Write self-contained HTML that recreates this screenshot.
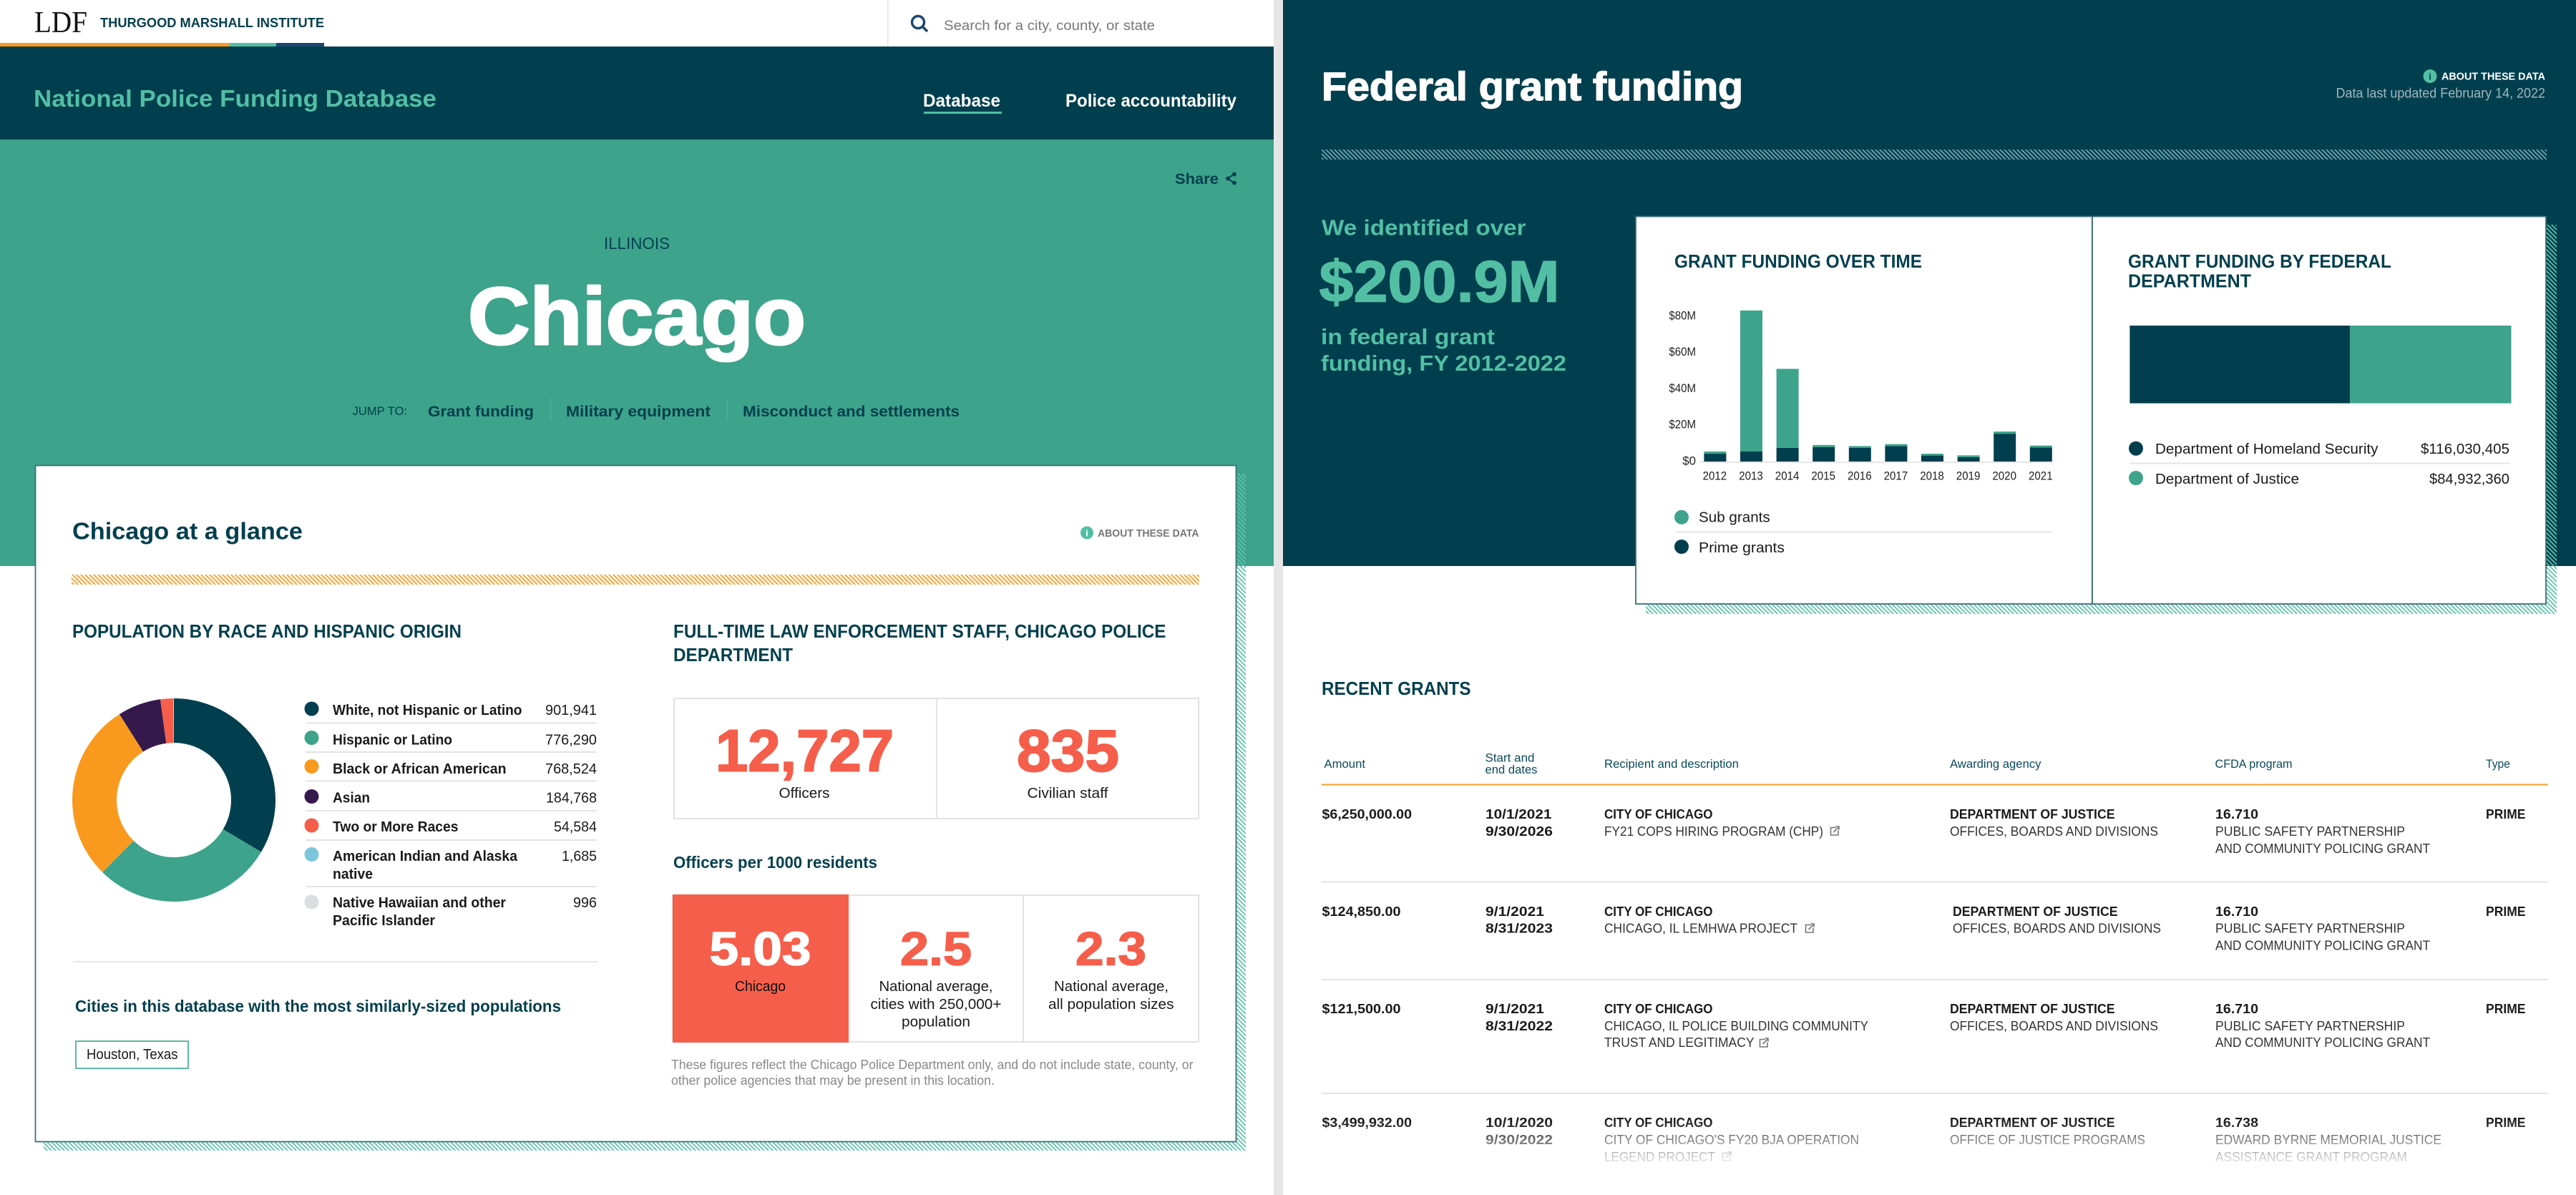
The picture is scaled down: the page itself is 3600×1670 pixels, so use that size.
<!DOCTYPE html>
<html lang="en">
<head>
<meta charset="utf-8">
<title>National Police Funding Database – Chicago</title>
<style>
html,body{margin:0;padding:0;background:#fff;width:3600px;height:1670px;overflow:hidden}
svg{display:block}
text{font-family:"Liberation Sans",Arial,sans-serif;white-space:pre}
.b{font-weight:700}
.dk{fill:#023f4e}
.tl{fill:#52bfa4}
.wh{fill:#fff}
.ink{fill:#1a1a1a}
.red{fill:#f55e4b}
.sub{fill:#333}
.hd{fill:#0b4a58}
.hv{stroke-linejoin:round}
</style>
</head>
<body>
<svg xmlns="http://www.w3.org/2000/svg" width="3600" height="1670" viewBox="0 0 3600 1670">
<defs>
<pattern id="hatch-teal" width="6" height="6" patternUnits="userSpaceOnUse"><path d="M-1,-1L7,7M-1,5L1,7M5,-1L7,1" stroke="#5cc2a9" stroke-width="1.7" fill="none"/></pattern>
<pattern id="hatch-orange" width="6" height="6" patternUnits="userSpaceOnUse"><path d="M-1,-1L7,7M-1,5L1,7M5,-1L7,1" stroke="#f9a233" stroke-width="1.9" fill="none"/></pattern>
<pattern id="hatch-pale" width="6" height="6" patternUnits="userSpaceOnUse"><path d="M-1,-1L7,7M-1,5L1,7M5,-1L7,1" stroke="#6fa3ad" stroke-width="1.8" fill="none"/></pattern>
<linearGradient id="row-fade" x1="0" y1="0" x2="0" y2="1"><stop offset="0" stop-color="#fff" stop-opacity="0"/><stop offset="1" stop-color="#fff" stop-opacity="1"/></linearGradient>
<g id="ext-link"><path d="M9,2.5H1.5V13H12V6.5" fill="none" stroke="#777" stroke-width="1.6"/><path d="M5.5,9L12.5,2M8.5,1H13V5.5" fill="none" stroke="#777" stroke-width="1.6"/></g>
</defs>

<!-- backgrounds -->
<rect x="0" y="0" width="3600" height="1670" fill="#fff"/>
<rect x="1780" y="0" width="13" height="1670" fill="#e6e6e6"/>

<!-- LEFT PANEL -->
<g>
  <text x="48" y="45" font-size="42" textLength="74" style="font-family:'Liberation Serif',serif;fill:#111">LDF</text>
  <text x="140" y="38" font-size="18" textLength="313" class="b dk">THURGOOD MARSHALL INSTITUTE</text>
  <rect x="0" y="60" width="320" height="5" fill="#f99a1f"/>
  <rect x="320" y="60" width="66" height="5" fill="#52bfa4"/>
  <rect x="386" y="60" width="67" height="5" fill="#1c4672"/>
  <rect x="1240" y="0" width="1.5" height="65" fill="#e2e2e2"/>
  <g><circle cx="1283" cy="31" r="8.5" fill="none" stroke="#1c4672" stroke-width="3.4"/><path d="M1289,37L1296,44" stroke="#1c4672" stroke-width="3.6"/></g>
  <text x="1319" y="42" font-size="19" textLength="295" fill="#777">Search for a city, county, or state</text>
</g>

<rect x="0" y="65" width="1780" height="130" fill="#023f4e"/>
<text x="47" y="149" font-size="33" textLength="563" class="b tl">National Police Funding Database</text>
<text x="1290" y="149" font-size="25" textLength="108" class="b wh">Database</text>
<rect x="1291" y="156" width="109" height="3" fill="#52bfa4"/>
<text x="1489" y="149" font-size="25" textLength="239" class="b wh">Police accountability</text>

<rect x="0" y="195" width="1780" height="596" fill="#3da38b"/>
<text x="1642" y="257" font-size="21" textLength="61" class="b dk">Share</text>
<g fill="#023f4e" stroke="#023f4e"><path d="M1725,243L1716,249.5L1725,256" fill="none" stroke-width="2"/><circle cx="1725" cy="243.5" r="2.4"/><circle cx="1716" cy="249.5" r="2.4"/><circle cx="1725" cy="255.5" r="2.4"/></g>
<text x="844" y="348" font-size="23" textLength="92" class="dk">ILLINOIS</text>
<text x="654" y="481" font-size="113" textLength="472" class="b wh hv" stroke="#fff" stroke-width="3">Chicago</text>
<text x="492.5" y="580" font-size="17" textLength="76.5" class="dk">JUMP TO:</text>
<text x="598" y="582" font-size="21" textLength="148" class="b dk">Grant funding</text>
<rect x="769" y="556" width="1.5" height="33" fill="#52ad98"/>
<text x="791" y="582" font-size="21" textLength="202" class="b dk">Military equipment</text>
<rect x="1016" y="556" width="1.5" height="33" fill="#52ad98"/>
<text x="1038" y="582" font-size="21" textLength="303" class="b dk">Misconduct and settlements</text>

<!-- glance card -->
<rect x="61" y="662" width="1680" height="946" fill="url(#hatch-teal)"/>
<rect x="49.5" y="650.5" width="1678" height="945" fill="#fff" stroke="#3a6f7c" stroke-width="1.8"/>
<text x="101" y="753.5" font-size="33" textLength="322" class="b dk">Chicago at a glance</text>
<g>
  <circle cx="1519" cy="744.5" r="9" fill="#52bfa4"/>
  <text x="1519" y="749.5" font-size="13" text-anchor="middle" class="b wh">i</text>
  <text x="1534" y="750" font-size="15" textLength="141.5" class="b" fill="#777">ABOUT THESE DATA</text>
</g>
<rect x="100" y="803" width="1576" height="14" fill="url(#hatch-orange)"/>

<text x="101" y="891" font-size="26" textLength="544" class="b dk">POPULATION BY RACE AND HISPANIC ORIGIN</text>
<g id="donut"></g>

<g>
  <circle cx="435.5" cy="990.5" r="10" fill="#023f4e"/>
  <text x="465" y="999" font-size="20" textLength="264.5" class="b ink">White, not Hispanic or Latino</text>
  <text x="762" y="999" font-size="20" textLength="72" class="ink">901,941</text>
  <rect x="427" y="1009.5" width="407" height="2" fill="#e4e4e4"/>

  <circle cx="435.5" cy="1031" r="10" fill="#3da38b"/>
  <text x="465" y="1040.5" font-size="20" textLength="167" class="b ink">Hispanic or Latino</text>
  <text x="762" y="1040.5" font-size="20" textLength="72" class="ink">776,290</text>
  <rect x="427" y="1050" width="407" height="2" fill="#e4e4e4"/>

  <circle cx="435.5" cy="1071" r="10" fill="#f99a1f"/>
  <text x="465" y="1081" font-size="20" textLength="242.5" class="b ink">Black or African American</text>
  <text x="762" y="1081" font-size="20" textLength="72" class="ink">768,524</text>
  <rect x="427" y="1090.5" width="407" height="2" fill="#e4e4e4"/>

  <circle cx="435.5" cy="1113" r="10" fill="#35194d"/>
  <text x="465" y="1121.5" font-size="20" textLength="52" class="b ink">Asian</text>
  <text x="763" y="1121.5" font-size="20" textLength="71" class="ink">184,768</text>
  <rect x="427" y="1132" width="407" height="2" fill="#e4e4e4"/>

  <circle cx="435.5" cy="1153.5" r="10" fill="#f55e4b"/>
  <text x="465" y="1162" font-size="20" textLength="175.5" class="b ink">Two or More Races</text>
  <text x="774" y="1162" font-size="20" textLength="60" class="ink">54,584</text>
  <rect x="427" y="1173" width="407" height="2" fill="#e4e4e4"/>

  <circle cx="435.5" cy="1194" r="10" fill="#7cc5da"/>
  <text x="465" y="1203" font-size="20" textLength="258" class="b ink">American Indian and Alaska</text>
  <text x="465" y="1228" font-size="20" textLength="56" class="b ink">native</text>
  <text x="785" y="1203" font-size="20" textLength="49" class="ink">1,685</text>
  <rect x="427" y="1238" width="407" height="2" fill="#e4e4e4"/>

  <circle cx="435.5" cy="1260.5" r="10" fill="#dcdde0"/>
  <text x="465" y="1268" font-size="20" textLength="242" class="b ink">Native Hawaiian and other</text>
  <text x="465" y="1293" font-size="20" textLength="143" class="b ink">Pacific Islander</text>
  <text x="801" y="1268" font-size="20" textLength="33" class="ink">996</text>
</g>

<rect x="102" y="1343" width="733" height="2" fill="#e6e6e6"/>
<text x="105" y="1414" font-size="23" textLength="679" class="b dk">Cities in this database with the most similarly-sized populations</text>
<rect x="106" y="1455" width="157" height="38" fill="#fff" stroke="#5fb8a2" stroke-width="2"/>
<text x="121" y="1480" font-size="20" textLength="127.5" class="ink">Houston, Texas</text>

<text x="941" y="891" font-size="26" textLength="688.5" class="b dk">FULL-TIME LAW ENFORCEMENT STAFF, CHICAGO POLICE</text>
<text x="941" y="924" font-size="26" textLength="167" class="b dk">DEPARTMENT</text>

<rect x="942" y="976" width="733" height="168" fill="#fff" stroke="#e2e2e2" stroke-width="2"/>
<rect x="1308" y="976" width="2" height="168" fill="#e2e2e2"/>
<text x="1000" y="1077.5" font-size="83" textLength="249" class="b red hv" stroke="#f55e4b" stroke-width="2">12,727</text>
<text x="1088.5" y="1115" font-size="20" textLength="71" class="ink">Officers</text>
<text x="1421" y="1077.5" font-size="83" textLength="143" class="b red hv" stroke="#f55e4b" stroke-width="2">835</text>
<text x="1435.5" y="1115" font-size="20" textLength="113" class="ink">Civilian staff</text>

<text x="941" y="1213" font-size="23" textLength="285" class="b dk">Officers per 1000 residents</text>
<rect x="940" y="1251" width="735" height="205" fill="#fff" stroke="#e2e2e2" stroke-width="2"/>
<rect x="1429" y="1251" width="2" height="205" fill="#e2e2e2"/>
<rect x="940" y="1250" width="246" height="207" fill="#f55e4b"/>
<text x="991.5" y="1348.5" font-size="66" textLength="142" class="b wh hv" stroke="#fff" stroke-width="1.5">5.03</text>
<text x="1027" y="1385" font-size="20" textLength="71" fill="#111">Chicago</text>
<text x="1258" y="1348.5" font-size="66" textLength="100" class="b red hv" stroke="#f55e4b" stroke-width="1.5">2.5</text>
<text x="1228.5" y="1385" font-size="20" textLength="159" class="ink">National average,</text>
<text x="1216.5" y="1410" font-size="20" textLength="183" class="ink">cities with 250,000+</text>
<text x="1260" y="1434.5" font-size="20" textLength="96" class="ink">population</text>
<text x="1503" y="1348.5" font-size="66" textLength="99" class="b red hv" stroke="#f55e4b" stroke-width="1.5">2.3</text>
<text x="1473" y="1385" font-size="20" textLength="160" class="ink">National average,</text>
<text x="1465" y="1410" font-size="20" textLength="175.5" class="ink">all population sizes</text>
<text x="938" y="1494" font-size="18" textLength="729.5" fill="#888">These figures reflect the Chicago Police Department only, and do not include state, county, or</text>
<text x="938" y="1516" font-size="18" textLength="452" fill="#888">other police agencies that may be present in this location.</text>

<!-- RIGHT PANEL -->
<rect x="1793" y="0" width="1807" height="791" fill="#023f4e"/>
<text x="1847" y="140" font-size="56" textLength="589" class="b wh" stroke="#fff" stroke-width="1.5">Federal grant funding</text>
<g>
  <circle cx="3396" cy="106.5" r="9.5" fill="#52bfa4"/>
  <text x="3396" y="111.5" font-size="13" text-anchor="middle" class="b dk">i</text>
  <text x="3412" y="111.7" font-size="14.5" textLength="145" class="b wh">ABOUT THESE DATA</text>
</g>
<text x="3264.5" y="136.7" font-size="19" textLength="292.5" fill="#9fb6bc">Data last updated February 14, 2022</text>
<rect x="1847" y="209" width="1712" height="14" fill="url(#hatch-pale)"/>

<text x="1847" y="328.5" font-size="31" textLength="285.5" class="b tl">We identified over</text>
<text x="1843.5" y="421.5" font-size="82" textLength="336" class="b tl" stroke="#52bfa4" stroke-width="1.5">$200.9M</text>
<text x="1846" y="481" font-size="31" textLength="243" class="b tl">in federal grant</text>
<text x="1846" y="518" font-size="31" textLength="343" class="b tl">funding, FY 2012-2022</text>

<rect x="2300" y="314" width="1273" height="544" fill="url(#hatch-teal)"/>
<rect x="2286" y="302.5" width="1272" height="541.5" fill="#fff" stroke="#3a6f7c" stroke-width="1.8"/>
<rect x="2923" y="302" width="1.8" height="542" fill="#2a5f6c"/>

<text x="2340" y="373.8" font-size="26" textLength="346" class="b dk">GRANT FUNDING OVER TIME</text>
<g id="bar-chart"></g>
<g>
  <circle cx="2350" cy="722.8" r="10" fill="#3da38b"/>
  <text x="2374" y="729.7" font-size="20" textLength="99.7" class="ink">Sub grants</text>
  <rect x="2342" y="742.5" width="526" height="2" fill="#e4e4e4"/>
  <circle cx="2350" cy="764" r="10" fill="#023f4e"/>
  <text x="2374" y="771.8" font-size="20" textLength="120" class="ink">Prime grants</text>
</g>

<text x="2974" y="373.8" font-size="26" textLength="368" class="b dk">GRANT FUNDING BY FEDERAL</text>
<text x="2974" y="401.7" font-size="26" textLength="172" class="b dk">DEPARTMENT</text>
<g id="stack-chart"></g>
<g>
  <circle cx="2985" cy="626.7" r="10" fill="#023f4e"/>
  <text x="3012" y="634" font-size="20" textLength="311.5" class="ink">Department of Homeland Security</text>
  <text x="3383" y="634" font-size="20" textLength="124" class="ink">$116,030,405</text>
  <rect x="2976" y="646.5" width="532" height="2" fill="#e4e4e4"/>
  <circle cx="2985" cy="668" r="10" fill="#3da38b"/>
  <text x="3012" y="676" font-size="20" textLength="201" class="ink">Department of Justice</text>
  <text x="3395" y="676" font-size="20" textLength="112" class="ink">$84,932,360</text>
</g>

<!-- Recent grants table -->
<text x="1847" y="971" font-size="26" textLength="208.5" class="b dk">RECENT GRANTS</text>
<g font-size="16.5">
  <text x="1850.5" y="1073" textLength="57.5" class="hd">Amount</text>
  <text x="2075.5" y="1064.5" textLength="69" class="hd">Start and</text>
  <text x="2075.5" y="1081" textLength="73" class="hd">end dates</text>
  <text x="2242" y="1073" textLength="188" class="hd">Recipient and description</text>
  <text x="2725" y="1073" textLength="127.5" class="hd">Awarding agency</text>
  <text x="3095.5" y="1073" textLength="108" class="hd">CFDA program</text>
  <text x="3474" y="1073" textLength="34" class="hd">Type</text>
</g>
<rect x="1847" y="1095.5" width="1714" height="2" fill="#f7a030"/>

<g font-size="18.7">
  <text x="1847.5" y="1144" textLength="125.5" class="b ink">$6,250,000.00</text>
  <text x="2076" y="1144" textLength="92.5" class="b ink">10/1/2021</text>
  <text x="2076" y="1168" textLength="94" class="b ink">9/30/2026</text>
  <text x="2242" y="1144" textLength="151.5" class="b ink">CITY OF CHICAGO</text>
  <text x="2242" y="1168" textLength="306" class="sub">FY21 COPS HIRING PROGRAM (CHP)</text>
  <use href="#ext-link" x="2557" y="1154"/>
  <text x="2725" y="1144" textLength="230.5" class="b ink">DEPARTMENT OF JUSTICE</text>
  <text x="2725" y="1168" textLength="291" class="sub">OFFICES, BOARDS AND DIVISIONS</text>
  <text x="3096" y="1144" textLength="60" class="b ink">16.710</text>
  <text x="3096" y="1168" textLength="265" class="sub">PUBLIC SAFETY PARTNERSHIP</text>
  <text x="3096" y="1192" textLength="300" class="sub">AND COMMUNITY POLICING GRANT</text>
  <text x="3474" y="1144" textLength="55.5" class="b ink">PRIME</text>
</g>
<rect x="1847" y="1231.5" width="1714" height="2" fill="#e4e4e4"/>

<g font-size="18.7">
  <text x="1847.5" y="1280" textLength="110" class="b ink">$124,850.00</text>
  <text x="2076" y="1280" textLength="82" class="b ink">9/1/2021</text>
  <text x="2076" y="1303.7" textLength="94" class="b ink">8/31/2023</text>
  <text x="2242" y="1280" textLength="151.5" class="b ink">CITY OF CHICAGO</text>
  <text x="2242" y="1303.7" textLength="270" class="sub">CHICAGO, IL LEMHWA PROJECT</text>
  <use href="#ext-link" x="2522" y="1290"/>
  <text x="2729" y="1280" textLength="230.5" class="b ink">DEPARTMENT OF JUSTICE</text>
  <text x="2729" y="1303.7" textLength="291" class="sub">OFFICES, BOARDS AND DIVISIONS</text>
  <text x="3096" y="1280" textLength="60" class="b ink">16.710</text>
  <text x="3096" y="1303.7" textLength="265" class="sub">PUBLIC SAFETY PARTNERSHIP</text>
  <text x="3096" y="1327.6" textLength="300" class="sub">AND COMMUNITY POLICING GRANT</text>
  <text x="3474" y="1280" textLength="55.5" class="b ink">PRIME</text>
</g>
<rect x="1847" y="1368" width="1714" height="2" fill="#e4e4e4"/>

<g font-size="18.7">
  <text x="1847.5" y="1416" textLength="110" class="b ink">$121,500.00</text>
  <text x="2076" y="1416" textLength="82" class="b ink">9/1/2021</text>
  <text x="2076" y="1440" textLength="94" class="b ink">8/31/2022</text>
  <text x="2242" y="1416" textLength="151.5" class="b ink">CITY OF CHICAGO</text>
  <text x="2242" y="1440" textLength="369" class="sub">CHICAGO, IL POLICE BUILDING COMMUNITY</text>
  <text x="2242" y="1463" textLength="209.5" class="sub">TRUST AND LEGITIMACY</text>
  <use href="#ext-link" x="2458" y="1450"/>
  <text x="2725" y="1416" textLength="230.5" class="b ink">DEPARTMENT OF JUSTICE</text>
  <text x="2725" y="1440" textLength="291" class="sub">OFFICES, BOARDS AND DIVISIONS</text>
  <text x="3096" y="1416" textLength="60" class="b ink">16.710</text>
  <text x="3096" y="1440" textLength="265" class="sub">PUBLIC SAFETY PARTNERSHIP</text>
  <text x="3096" y="1463" textLength="300" class="sub">AND COMMUNITY POLICING GRANT</text>
  <text x="3474" y="1416" textLength="55.5" class="b ink">PRIME</text>
</g>
<rect x="1847" y="1527" width="1714" height="2" fill="#e4e4e4"/>

<g font-size="18.7">
  <text x="1847.5" y="1575" textLength="125.5" class="b ink">$3,499,932.00</text>
  <text x="2076" y="1575" textLength="94" class="b ink">10/1/2020</text>
  <text x="2076" y="1599" textLength="94" class="b ink">9/30/2022</text>
  <text x="2242" y="1575" textLength="151.5" class="b ink">CITY OF CHICAGO</text>
  <text x="2242" y="1599" textLength="356" class="sub">CITY OF CHICAGO'S FY20 BJA OPERATION</text>
  <text x="2242" y="1623" textLength="155" class="sub">LEGEND PROJECT</text>
  <use href="#ext-link" x="2406" y="1609"/>
  <text x="2725" y="1575" textLength="230.5" class="b ink">DEPARTMENT OF JUSTICE</text>
  <text x="2725" y="1599" textLength="273" class="sub">OFFICE OF JUSTICE PROGRAMS</text>
  <text x="3096" y="1575" textLength="60" class="b ink">16.738</text>
  <text x="3096" y="1599" textLength="316" class="sub">EDWARD BYRNE MEMORIAL JUSTICE</text>
  <text x="3096" y="1623" textLength="268" class="sub">ASSISTANCE GRANT PROGRAM</text>
  <text x="3474" y="1575" textLength="55.5" class="b ink">PRIME</text>
</g>
<rect x="1793" y="1566" width="1807" height="69" fill="url(#row-fade)"/>
<rect x="1793" y="1635" width="1807" height="35" fill="#fff"/>
</svg>

<script>
// Population donut data
const raceCategories = ["White, not Hispanic or Latino", "Hispanic or Latino", "Black or African American", "Asian", "Two or More Races", "American Indian and Alaska native", "Native Hawaiian and other Pacific Islander"];
const raceValues = [901941, 776290, 768524, 184768, 54584, 1685, 996];
const racePalette = ["#023f4e", "#3da38b", "#f99a1f", "#35194d", "#f55e4b", "#7cc5da", "#dcdde0"];

// Funding over time data ($M)
const fundingYears = ["2012", "2013", "2014", "2015", "2016", "2017", "2018", "2019", "2020", "2021"];
const primeGrants = [4.7, 5.9, 7.9, 8.3, 7.9, 8.9, 3.7, 2.8, 15.7, 8.1];
const subGrants = [1.2, 77.6, 43.5, 1.2, 1.0, 1.1, 1.0, 1.0, 1.2, 1.1];
const fundingTicks = [0, 20, 40, 60, 80];
const fundingTickLabels = ["$0", "$20M", "$40M", "$60M", "$80M"];

// Funding by department data
const departments = ["Department of Homeland Security", "Department of Justice"];
const departmentValues = [116030405, 84932360];
const departmentPalette = ["#023f4e", "#3da38b"];

const SVGNS = "http://www.w3.org/2000/svg";
function make(tag, attrs, parent) {
  const el = document.createElementNS(SVGNS, tag);
  for (const k in attrs) el.setAttribute(k, attrs[k]);
  parent.appendChild(el);
  return el;
}

// Donut: angle axis runs clockwise from 12 o'clock
const donutCx = 243, donutCy = 1118, donutOuter = 142, donutInner = 80;
const raceTotal = raceValues.reduce((a, b) => a + b, 0);
function angleScale(v) { return v / raceTotal * Math.PI * 2; }
function polar(r, a) { return [donutCx + r * Math.sin(a), donutCy - r * Math.cos(a)]; }
const donutGroup = document.getElementById("donut");
let cumulative = 0;
raceValues.forEach((v, i) => {
  const a0 = angleScale(cumulative);
  cumulative += v;
  const a1 = angleScale(cumulative);
  const large = a1 - a0 > Math.PI ? 1 : 0;
  const p0 = polar(donutOuter, a0), p1 = polar(donutOuter, a1), p2 = polar(donutInner, a1), p3 = polar(donutInner, a0);
  const d = `M${p0}A${donutOuter},${donutOuter} 0 ${large} 1 ${p1}L${p2}A${donutInner},${donutInner} 0 ${large} 0 ${p3}Z`;
  const slice = make("path", { d: d, fill: racePalette[i] }, donutGroup);
  
  
  const tip = make("title", {}, slice);
  tip.textContent = raceCategories[i];
});

// Stacked bars
const barGroup = document.getElementById("bar-chart");
const plotLeft = 2381.4, bandStep = 50.6, barWidth = 31, plotZero = 646, pxPerMillion = 2.54;
function xScale(i) { return plotLeft + i * bandStep; }
function yScale(v) { return plotZero - v * pxPerMillion; }

fundingTicks.forEach((t, i) => {
  const label = make("text", { x: 2370, y: yScale(t) + 3.5, "font-size": 17, "text-anchor": "end", fill: "#222", textLength: fundingTickLabels[i].length * 9.4 }, barGroup);
  
  
  label.textContent = fundingTickLabels[i];
});
fundingYears.forEach((year, i) => {
  const prime = make("rect", { x: xScale(i), y: yScale(primeGrants[i]), width: barWidth, height: plotZero - yScale(primeGrants[i]), fill: "#023f4e" }, barGroup);
  
  
  const sub = make("rect", { x: xScale(i), y: yScale(primeGrants[i] + subGrants[i]), width: barWidth, height: yScale(primeGrants[i]) - yScale(primeGrants[i] + subGrants[i]), fill: "#3da38b" }, barGroup);
  
  
  const label = make("text", { x: xScale(i) + barWidth / 2 - 0.5, y: 670.7, "font-size": 17, "text-anchor": "middle", fill: "#222", textLength: 33.6 }, barGroup);
  
  
  label.textContent = year;
});
const axisLine = make("rect", { x: 2376.4, y: plotZero - 1, width: 491.6, height: 2, fill: "#e6e6e6" }, barGroup);



// Single stacked bar by department
const stackGroup = document.getElementById("stack-chart");
const stackLeft = 2976.4, stackWidth = 533.1;
const departmentTotal = departmentValues.reduce((a, b) => a + b, 0);
function stackScale(v) { return stackLeft + v / departmentTotal * stackWidth; }
let stackCum = 0;
departmentValues.forEach((v, i) => {
  const x0 = stackScale(stackCum);
  stackCum += v;
  const seg = make("rect", { x: x0, y: 455, width: stackScale(stackCum) - x0, height: 108.6, fill: departmentPalette[i] }, stackGroup);
  
  
  const tip = make("title", {}, seg);
  tip.textContent = departments[i];
});

// Fit every measured label to its exact width
document.querySelectorAll("text[textLength]").forEach(t => t.setAttribute("lengthAdjust", "spacingAndGlyphs"));
</script>
</body>
</html>
